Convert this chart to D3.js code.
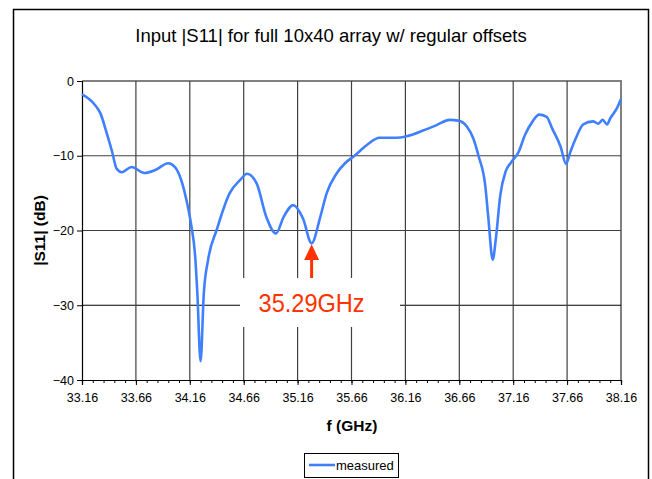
<!DOCTYPE html>
<html>
<head>
<meta charset="utf-8">
<script src="https://cdn.jsdelivr.net/npm/d3@7"></script>
<style>
  body { margin: 0; background: #fff; }
  text { font-family: Arial, "Liberation Sans", sans-serif; }
</style>
</head>
<body>
<div id="chart"></div>
<script>
// measured |S11| in dB
var freqs = [33.16, 33.28, 33.33, 33.39, 33.44, 33.48, 33.53, 33.62, 33.74, 33.84, 33.96, 34.02, 34.04, 34.09,
  34.13, 34.17, 34.21, 34.23, 34.26, 34.29, 34.33, 34.41, 34.53, 34.63, 34.69, 34.78, 34.87, 34.96,
  35.03, 35.12, 35.21, 35.29, 35.37, 35.43, 35.52, 35.60, 35.68, 35.80, 35.92, 36.08, 36.17, 36.33,
  36.45, 36.57, 36.65, 36.73, 36.79, 36.84, 36.90, 36.93, 36.97, 37.00, 37.04, 37.09, 37.14, 37.21,
  37.27, 37.34, 37.40, 37.47, 37.52, 37.60, 37.65, 37.69, 37.74, 37.81, 37.90, 37.95, 37.99, 38.03,
  38.06, 38.12, 38.16];
var s11 = [-1.8, -3.2, -4.3, -7.0, -9.5, -11.7, -12.2, -11.5, -12.3, -11.9, -11.0, -11.5, -11.9, -13.7,
  -16.0, -19.0, -23.5, -28.4, -37.5, -28.4, -23.9, -19.9, -15.0, -13.2, -12.4, -13.7, -18.2, -20.4,
  -18.2, -16.6, -18.4, -21.7, -18.2, -15.0, -12.4, -11.0, -10.1, -8.6, -7.6, -7.6, -7.4, -6.6,
  -5.9, -5.2, -5.3, -6.1, -7.7, -10.1, -13.9, -18.4, -23.9, -21.0, -15.3, -12.1, -10.9, -9.5,
  -7.2, -5.4, -4.5, -4.8, -6.3, -8.8, -11.1, -9.5, -7.7, -5.8, -5.4, -5.7, -5.2, -5.8,
  -5.0, -3.7, -2.4];
var xTicks = [33.16, 33.66, 34.16, 34.66, 35.16, 35.66, 36.16, 36.66, 37.16, 37.66, 38.16];
var yTicks = [0, -10, -20, -30, -40];
var markerFreq = 35.29;
var markerLabel = "35.29GHz";

var W = 652, H = 479;
var svg = d3.select("#chart").append("svg")
    .attr("width", W)
    .attr("height", H);

// outer chart frame
svg.append("rect")
    .attr("x", 13.5).attr("y", 9.5)
    .attr("width", 635).attr("height", 480)
    .attr("fill", "none").attr("stroke", "#000").attr("stroke-width", 1.5);

var x = d3.scaleLinear().domain([33.16, 38.16]).range([82, 621]);
var y = d3.scaleLinear().domain([-40, 0]).range([380, 81]);

svg.append("text")
    .attr("x", 331).attr("y", 42)
    .attr("text-anchor", "middle")
    .style("font-size", "18.5px")
    .text("Input |S11| for full 10x40 array w/ regular offsets");

// plot border top / right
svg.append("path")
    .attr("d", "M" + x(33.16) + "," + y(0) + "H" + x(38.16) + "V" + y(-40))
    .attr("fill", "none").attr("stroke", "#808080").attr("stroke-width", 2);

// grid
svg.selectAll(".hgrid")
    .data([-10, -20, -30])
    .enter().append("line")
    .attr("class", "hgrid")
    .attr("x1", x(33.16)).attr("x2", x(38.16))
    .attr("y1", function (d) { return y(d); })
    .attr("y2", function (d) { return y(d); })
    .attr("stroke", function (d) { return d == -30 ? "#000" : "#404040"; })
    .attr("stroke-width", 1.2);

svg.selectAll(".vgrid")
    .data(xTicks.slice(1, -1))
    .enter().append("line")
    .attr("class", "vgrid")
    .attr("x1", function (d) { return x(d); })
    .attr("x2", function (d) { return x(d); })
    .attr("y1", y(0)).attr("y2", y(-40))
    .attr("stroke", "#404040")
    .attr("stroke-width", 1.2);

// axes
var minor = d3.range(0, 51).map(function (i) { return 33.16 + i * 0.1; });
var xAxisMinor = d3.axisBottom(x).tickValues(minor).tickSize(3).tickFormat("");
var xAxis = d3.axisBottom(x).tickValues(xTicks).tickSize(5).tickPadding(8)
    .tickFormat(function (d) { return d.toFixed(2); });
var yAxis = d3.axisLeft(y).tickValues(yTicks).tickSize(5).tickPadding(3)
    .tickFormat(d3.format("d"));

svg.append("g").attr("transform", "translate(0," + y(-40) + ")").call(xAxisMinor);
var gx = svg.append("g").attr("transform", "translate(0," + y(-40) + ")").call(xAxis);
var gy = svg.append("g").attr("transform", "translate(" + x(33.16) + ",0)").call(yAxis);

svg.selectAll(".domain").attr("stroke", "#000").attr("stroke-width", 1.2);
gx.selectAll("text").style("font-size", "12.5px").style("font-family", "Arial, 'Liberation Sans', sans-serif").attr("fill", "#000");
gy.selectAll("text").style("font-size", "12.5px").style("font-family", "Arial, 'Liberation Sans', sans-serif").attr("fill", "#000");

svg.append("text")
    .attr("x", 352).attr("y", 431)
    .attr("text-anchor", "middle")
    .style("font-size", "15.5px").style("font-weight", "bold")
    .text("f (GHz)");

svg.append("text")
    .attr("transform", "translate(45," + y(-20) + ") rotate(-90)")
    .attr("text-anchor", "middle")
    .style("font-size", "15.5px").style("font-weight", "bold")
    .text("|S11| (dB)");

// data line
var line = d3.line()
    .x(function (d, i) { return x(freqs[i]); })
    .y(function (d) { return y(d); })
    .curve(d3.curveMonotoneX);

svg.append("path")
    .datum(s11)
    .attr("d", line)
    .attr("fill", "none")
    .attr("stroke", "#4080ff")
    .attr("stroke-width", 2.6)
    .attr("stroke-linejoin", "round");

// annotation
var mx = x(markerFreq);
svg.append("rect")
    .attr("x", 240).attr("y", 278)
    .attr("width", 160).attr("height", 49)
    .attr("fill", "#fff");

svg.append("path")
    .attr("d", "M" + mx + "," + (y(-21.7) + 1) + "L" + (mx + 7.5) + ",260L" + (mx + 1.5) + ",260L" + (mx + 1.5) +
        ",278L" + (mx - 1.5) + ",278L" + (mx - 1.5) + ",260L" + (mx - 7.5) + ",260Z")
    .attr("fill", "#ff3300");

svg.append("text")
    .attr("x", mx).attr("y", 312)
    .attr("text-anchor", "middle")
    .attr("textLength", 106)
    .attr("lengthAdjust", "spacingAndGlyphs")
    .style("font-size", "25px")
    .attr("fill", "#ff3300")
    .text(markerLabel);

// legend
svg.append("rect")
    .attr("x", 304.5).attr("y", 453.5)
    .attr("width", 94).attr("height", 24)
    .attr("fill", "#fff").attr("stroke", "#000").attr("stroke-width", 1);
svg.append("line")
    .attr("x1", 309).attr("x2", 335)
    .attr("y1", 465).attr("y2", 465)
    .attr("stroke", "#4080ff").attr("stroke-width", 2.6);
svg.append("text")
    .attr("x", 336).attr("y", 470)
    .style("font-size", "13px")
    .text("measured");
</script>
</body>
</html>
